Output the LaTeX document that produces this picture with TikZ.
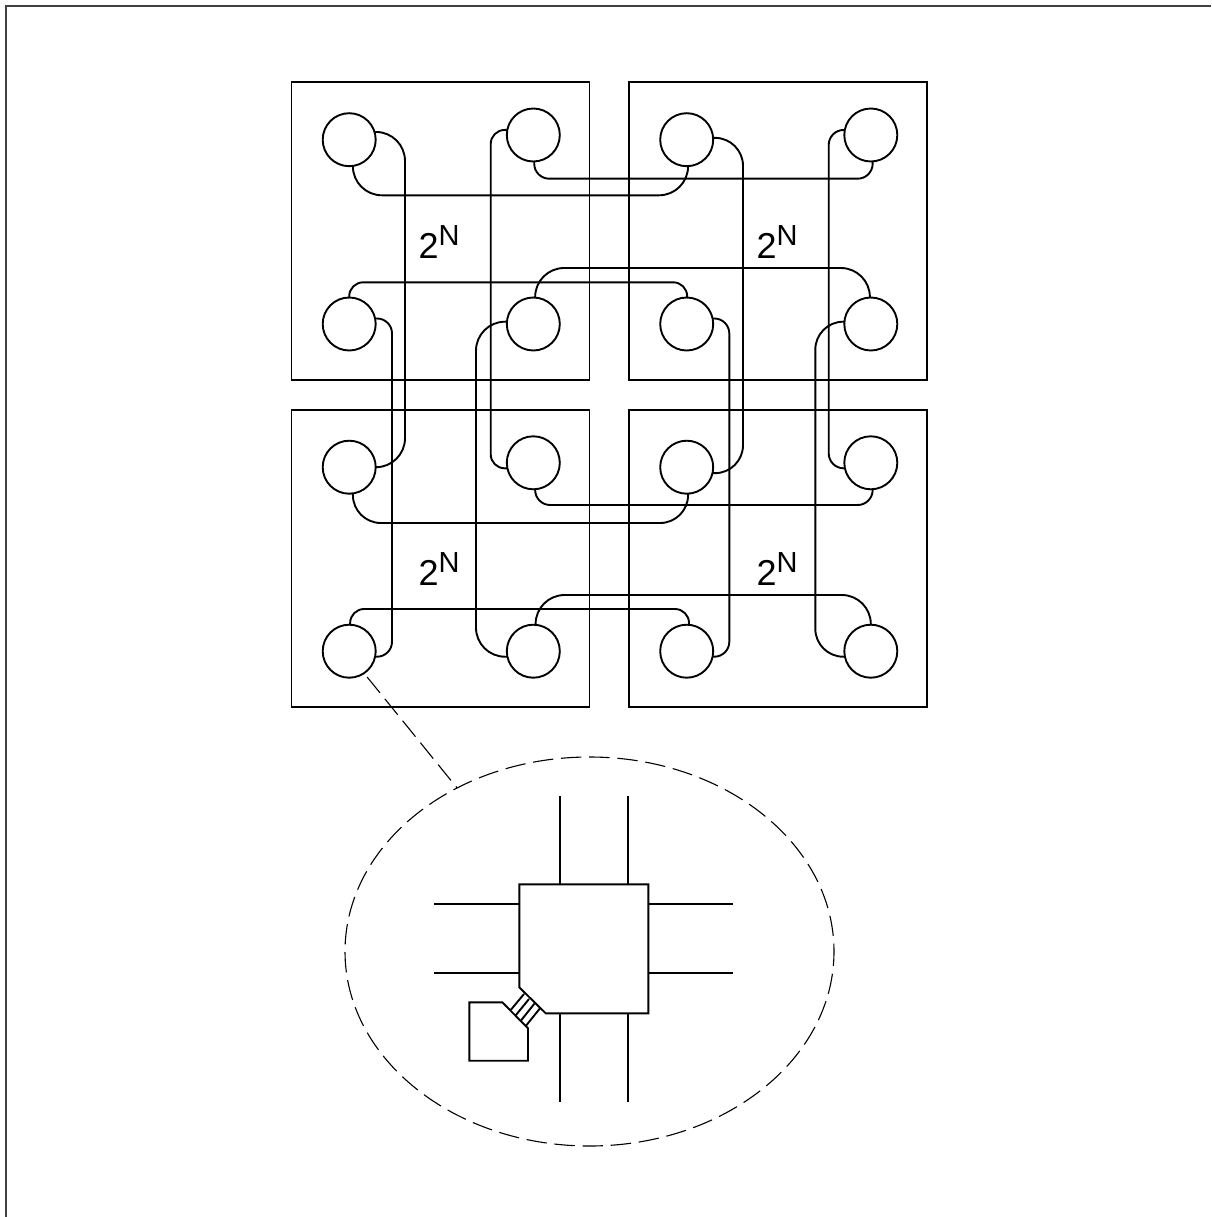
\documentclass[tikz,border=0pt]{standalone}
\usepackage{fontspec}
\setmainfont{Liberation Sans}
\usetikzlibrary{shapes.geometric}
\tikzset{
  lw/.style={line width=1.9pt, line join=miter},
  blockbox/.style={lw, draw, minimum width=298pt, minimum height=297.5pt, inner sep=0pt, outer sep=0pt},
  pe/.style={lw, draw, circle, minimum size=53pt, inner sep=0pt, outer sep=0pt},
  wire/.style={lw},
  lbl/.style={anchor=base west, inner sep=0pt, outer sep=0pt},
  dashy/.style={line width=1.1pt, dash pattern=on 20.4pt off 7.8pt},
  frameline/.style={line width=1.9pt, draw=black!75}
}
\newcommand{\twoN}{\fontsize{36}{36}\selectfont 2\raisebox{12.3pt}{\fontsize{29}{29}\selectfont N}}
\begin{document}
\begin{tikzpicture}[x=1pt,y=-1pt]
\useasboundingbox (0,0) rectangle (1211,1217);
% page frame
\coordinate (ftl) at (6,6);
\coordinate (fbl) at (6,1217);
\coordinate (ftr) at (1211,6);
\draw[frameline] (fbl) -- (ftl) -- (ftr);
% blocks
\node[blockbox] (b1) at (440.5,231.2) {};
\node[blockbox] (b2) at (777.8,231.2) {};
\node[blockbox] (b3) at (440.5,558.4) {};
\node[blockbox] (b4) at (777.8,558.4) {};
% processors
\node[pe] (c11) at (349.2,139.7) {};
\node[pe] (c12) at (533.3,135) {};
\node[pe] (c13) at (349.2,324) {};
\node[pe] (c14) at (533.3,324) {};
\node[pe] (c21) at (686.7,139.7) {};
\node[pe] (c22) at (870.8,135) {};
\node[pe] (c23) at (686.7,324) {};
\node[pe] (c24) at (870.8,324) {};
\node[pe] (c31) at (349.2,467.2) {};
\node[pe] (c32) at (533.3,462.8) {};
\node[pe] (c33) at (349.2,651.2) {};
\node[pe] (c34) at (533.3,651.2) {};
\node[pe] (c41) at (686.7,467.2) {};
\node[pe] (c42) at (870.8,462.8) {};
\node[pe] (c43) at (686.7,651.2) {};
\node[pe] (c44) at (870.8,651.2) {};
% labels
\node[lbl] (l1) at (418.5,258) {\twoN};
\node[lbl] (l2) at (756.5,258) {\twoN};
\node[lbl] (l3) at (418.5,585) {\twoN};
\node[lbl] (l4) at (756.5,585) {\twoN};
% vertical routing tracks
\coordinate (va) at (405,300);
\coordinate (vb) at (490.7,300);
\coordinate (vc) at (392,500);
\coordinate (vd) at (476,500);
\coordinate (ve) at (743,300);
\coordinate (vf) at (828.7,300);
\coordinate (vg) at (729.3,500);
\coordinate (vh) at (815.3,500);
\draw[wire,rounded corners=29pt] (c11.17) -| (va) |- (c31.0);
\draw[wire,rounded corners=14pt] (c12.169) -| (vb) |- (c32.192);
\draw[wire,rounded corners=15pt] (c13.12) -| (vc) |- (c33.-12);
\draw[wire,rounded corners=29pt] (c14.175) -| (vd) |- (c34.192);
\draw[wire,rounded corners=28pt] (c21.4) -| (ve) |- (c41.-13);
\draw[wire,rounded corners=15pt] (c22.169) -| (vf) |- (c42.192);
\draw[wire,rounded corners=15pt] (c23.12) -| (vg) |- (c43.-12);
\draw[wire,rounded corners=28pt] (c24.175) -| (vh) |- (c44.192);
% horizontal routing tracks
\coordinate (ha) at (500,195.3);
\coordinate (hb) at (700,178.7);
\coordinate (hc) at (500,282.3);
\coordinate (hd) at (700,268);
\coordinate (he) at (500,523);
\coordinate (hf) at (700,505);
\coordinate (hg) at (500,609);
\coordinate (hh) at (700,595);
\draw[wire,rounded corners=29pt] (c11.-82) |- (ha) -| (c21.-87);
\draw[wire,rounded corners=15pt] (c12.-88) |- (hb) -| (c22.-86);
\draw[wire,rounded corners=14pt] (c13.90) |- (hc) -| (c23.89);
\draw[wire,rounded corners=29pt] (c14.86) |- (hd) -| (c24.92);
\draw[wire,rounded corners=28pt] (c31.-82) |- (he) -| (c41.-87);
\draw[wire,rounded corners=15pt] (c32.-86) |- (hf) -| (c42.-86);
\draw[wire,rounded corners=14pt] (c33.88) |- (hg) -| (c43.85);
\draw[wire,rounded corners=29pt] (c34.85) |- (hh) -| (c44.90);
% magnifier
\node[dashy, draw, ellipse, minimum width=489pt, minimum height=389pt, inner sep=0pt, outer sep=0pt, dash phase=12.5pt] (mag) at (589.5,951.5) {};
\draw[dashy, shorten <=4.9pt] (c33.-56) -- (mag.129.3);
% router
\coordinate (r1) at (519.3,884.3);
\coordinate (r2) at (648.3,884.3);
\coordinate (r3) at (648.3,1013.3);
\coordinate (r4) at (545.7,1013.3);
\coordinate (r5) at (519.3,987.3);
\draw[wire] (r1) -- (r2) -- (r3) -- (r4) -- (r5) -- cycle;
\foreach \n/\x in {s1/560.3,s2/627.7}{
  \coordinate (\n t) at (\x,796);
  \coordinate (\n u) at (\x,884.3);
  \coordinate (\n d) at (\x,1013.3);
  \coordinate (\n b) at (\x,1102);
  \draw[wire] (\n t) -- (\n u);
  \draw[wire] (\n d) -- (\n b);
}
\foreach \n/\y in {h1/903.7,h2/973.3}{
  \coordinate (\n l) at (434,\y);
  \coordinate (\n m) at (519.3,\y);
  \coordinate (\n n) at (648.3,\y);
  \coordinate (\n r) at (733,\y);
  \draw[wire] (\n l) -- (\n m);
  \draw[wire] (\n n) -- (\n r);
}
% processor pad
\coordinate (p1) at (469.3,1002.3);
\coordinate (p2) at (502.3,1002.3);
\coordinate (p3) at (528,1028.3);
\coordinate (p4) at (528,1060.7);
\coordinate (p5) at (469.3,1060.7);
\draw[wire] (p1) -- (p2) -- (p3) -- (p4) -- (p5) -- cycle;
% link hatching
\coordinate (k1a) at (510.7,1010);
\coordinate (k1b) at (524,994);
\coordinate (k2a) at (515.8,1015.2);
\coordinate (k2b) at (529,999);
\coordinate (k3a) at (521,1020.5);
\coordinate (k3b) at (534.5,1003.5);
\coordinate (k4a) at (526,1025.7);
\coordinate (k4b) at (540,1008.3);
\draw[wire] (k1a) -- (k1b);
\draw[wire] (k2a) -- (k2b);
\draw[wire] (k3a) -- (k3b);
\draw[wire] (k4a) -- (k4b);
\end{tikzpicture}
\end{document}
